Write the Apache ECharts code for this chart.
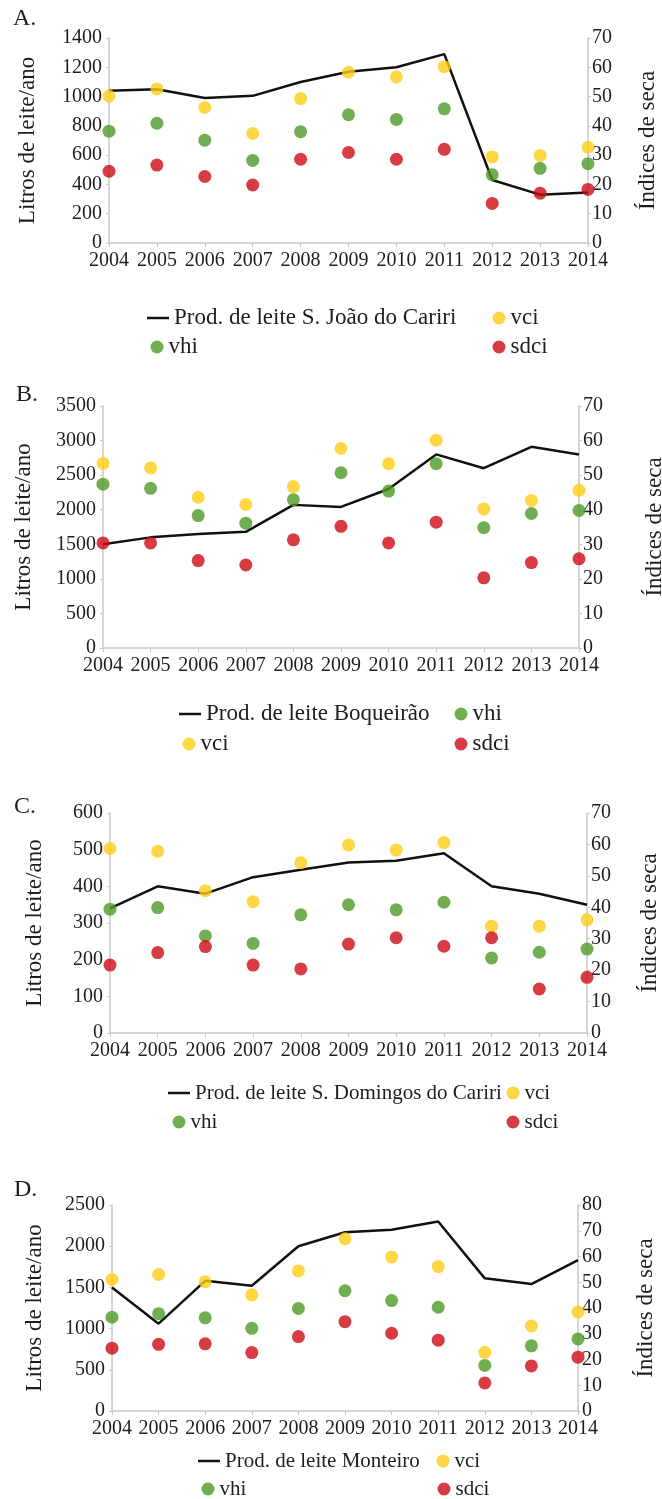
<!DOCTYPE html>
<html>
<head>
<meta charset="utf-8">
<script src="https://cdn.jsdelivr.net/npm/echarts@6/dist/echarts.min.js"></script>
<style>
  html, body { margin: 0; padding: 0; background: #ffffff; }
  #chart { width: 662px; height: 1499px; }
</style>
</head>
<body>
<div id="chart"></div>
<script>
// Years on the shared category axis
const years = ['2004', '2005', '2006', '2007', '2008', '2009', '2010', '2011', '2012', '2013', '2014'];

// A. S. João do Cariri
const prodA = [1040, 1050, 990, 1005, 1100, 1170, 1200, 1290, 430, 330, 345];
const vciA  = [50.2, 52.6, 46.3, 37.4, 49.3, 58.3, 56.7, 60.2, 29.4, 29.9, 32.7];
const vhiA  = [38.2, 40.9, 35.1, 28.2, 38.0, 43.8, 42.2, 45.8, 23.3, 25.5, 27.1];
const sdciA = [24.5, 26.6, 22.7, 19.8, 28.6, 30.9, 28.6, 32.0, 13.5, 17.0, 18.3];

// B. Boqueirão
const prodB = [1500, 1600, 1650, 1680, 2070, 2040, 2300, 2800, 2600, 2910, 2800];
const vciB  = [53.4, 52.1, 43.6, 41.5, 46.7, 57.7, 53.3, 60.1, 40.2, 42.7, 45.6];
const vhiB  = [47.4, 46.2, 38.3, 36.1, 42.9, 50.7, 45.4, 53.3, 34.8, 38.9, 39.8];
const sdciB = [30.4, 30.4, 25.3, 24.0, 31.3, 35.2, 30.4, 36.4, 20.3, 24.7, 25.8];

// C. S. Domingos do Cariri
const prodC = [340, 400, 380, 425, 445, 465, 470, 490, 400, 380, 350];
const vciC  = [58.7, 57.8, 45.3, 41.8, 54.2, 59.8, 58.2, 60.6, 34.0, 34.0, 36.0];
const vhiC  = [39.4, 39.9, 30.9, 28.5, 37.6, 40.8, 39.2, 41.6, 23.9, 25.7, 26.7];
const sdciC = [21.6, 25.6, 27.5, 21.6, 20.4, 28.3, 30.3, 27.6, 30.3, 14.0, 17.7];

// D. Monteiro
const prodD = [1500, 1060, 1580, 1520, 2000, 2170, 2200, 2300, 1610, 1540, 1830];
const vciD  = [51.1, 53.0, 50.2, 45.1, 54.4, 66.9, 59.8, 56.1, 22.8, 33.0, 38.4];
const vhiD  = [36.4, 37.8, 36.2, 32.1, 39.8, 46.7, 42.9, 40.3, 17.7, 25.3, 28.0];
const sdciD = [24.4, 25.9, 26.1, 22.7, 28.9, 34.7, 30.2, 27.5, 10.9, 17.5, 20.9];

// Axis ranges
const leftMax   = [1400, 3500, 600, 2500];
const leftStep  = [200, 500, 100, 500];
const rightMax  = [70, 70, 70, 80];
const rightStep = [10, 10, 10, 10];

const panelLetters = ['A.', 'B.', 'C.', 'D.'];
const lineNames = [
  'Prod. de leite S. João do Cariri',
  'Prod. de leite Boqueirão',
  'Prod. de leite S. Domingos do Cariri',
  'Prod. de leite Monteiro'
];
const prodData = [prodA, prodB, prodC, prodD];
const vciData  = [vciA, vciB, vciC, vciD];
const vhiData  = [vhiA, vhiB, vhiC, vhiD];
const sdciData = [sdciA, sdciB, sdciC, sdciD];

const FONT = '"Liberation Serif", "Times New Roman", serif';
const TEXT = '#1e1e1e';
const AXIS = '#c8c8c8';
const COLORS = { vci: '#FFCC14', vhi: '#4E9A26', sdci: '#CD0A14', line: '#111111' };

// Layout of each panel
const layout = [
  { grid: { left: 109, right: 74, top: 38, height: 205 }, title: [13, 7],
    leftGap: 70, rightGap: 48, legendFont: 23,
    legend: { line: [147, 318], vci: [499, 318], vhi: [157, 347], sdci: [499, 347] } },
  { grid: { left: 103, right: 83, top: 406, height: 242 }, title: [16, 383],
    leftGap: 68, rightGap: 64, legendFont: 23,
    legend: { line: [179, 714], vhi: [461, 714], vci: [189, 744], sdci: [461, 744] } },
  { grid: { left: 110, right: 75, top: 813, height: 220 }, title: [14, 795],
    leftGap: 64, rightGap: 51, legendFont: 21,
    legend: { line: [168, 1093], vci: [513, 1093], vhi: [179, 1122], sdci: [513, 1122] } },
  { grid: { left: 112, right: 84, top: 1205, height: 206 }, title: [14, 1178],
    leftGap: 66, rightGap: 56, legendFont: 21,
    legend: { line: [198, 1461], vci: [443, 1461], vhi: [208, 1489], sdci: [444, 1489] } }
];

const grids = [], xAxes = [], yAxes = [], series = [], legends = [], titles = [];

function axisLabel(margin) {
  return { fontFamily: FONT, fontSize: 20, color: TEXT, margin: margin,
           formatter: v => String(v) };
}

layout.forEach((L, i) => {
  grids.push(Object.assign({ containLabel: false, outerBoundsMode: 'none' }, L.grid));

  titles.push({
    text: panelLetters[i], left: L.title[0], top: L.title[1], padding: 0,
    textStyle: { fontFamily: FONT, fontSize: 24, fontWeight: 'normal', color: TEXT }
  });

  xAxes.push({
    type: 'category', gridIndex: i, data: years, boundaryGap: false,
    axisLine: { show: true, lineStyle: { color: AXIS, width: 1.5 } },
    axisTick: { show: true, length: 4, lineStyle: { color: AXIS } },
    axisLabel: Object.assign(axisLabel(8), { interval: 0 }),
    splitLine: { show: false }
  });

  yAxes.push({
    type: 'value', gridIndex: i, position: 'left', min: 0, max: leftMax[i], interval: leftStep[i],
    axisLine: { show: true, lineStyle: { color: AXIS, width: 1.5 } },
    axisTick: { show: true, length: 3, lineStyle: { color: AXIS } },
    axisLabel: axisLabel(7),
    splitLine: { show: false },
    name: 'Litros de leite/ano', nameLocation: 'middle', nameRotate: 90, nameGap: L.leftGap,
    nameTextStyle: { fontFamily: FONT, fontSize: 23, color: TEXT }
  });
  yAxes.push({
    type: 'value', gridIndex: i, position: 'right', min: 0, max: rightMax[i], interval: rightStep[i],
    axisLine: { show: true, lineStyle: { color: AXIS, width: 1.5 } },
    axisTick: { show: true, length: 3, lineStyle: { color: AXIS } },
    axisLabel: axisLabel(4),
    splitLine: { show: false },
    name: 'Índices de seca', nameLocation: 'middle', nameRotate: 90, nameGap: L.rightGap,
    nameTextStyle: { fontFamily: FONT, fontSize: 23, color: TEXT }
  });

  series.push({
    type: 'line', name: lineNames[i], xAxisIndex: i, yAxisIndex: 2 * i,
    data: prodData[i], symbol: 'none', showSymbol: false, z: 2,
    lineStyle: { color: COLORS.line, width: 2.5 }, itemStyle: { color: COLORS.line }
  });
  [['vci', vciData[i]], ['vhi', vhiData[i]], ['sdci', sdciData[i]]].forEach(([nm, d]) => {
    series.push({
      type: 'scatter', name: nm, xAxisIndex: i, yAxisIndex: 2 * i + 1,
      data: d, symbol: 'circle', symbolSize: 13, z: 3,
      itemStyle: { color: COLORS[nm] }
    });
  });

  // One legend per entry so the two-column arrangement can be placed freely
  const fs = L.legendFont, lh = fs + 2;
  const textStyle = { fontFamily: FONT, fontSize: fs, color: TEXT, lineHeight: lh };
  const lp = L.legend.line;
  legends.push({
    data: [{ name: lineNames[i], icon: 'rect' }], left: lp[0], top: lp[1] - lh / 2,
    itemWidth: 22, itemHeight: 2.5, padding: 0, selectedMode: false, textStyle: textStyle
  });
  ['vci', 'vhi', 'sdci'].forEach(nm => {
    const p = L.legend[nm];
    legends.push({
      data: [{ name: nm, icon: 'circle' }], left: p[0] - 6.5, top: p[1] - lh / 2,
      itemWidth: 13, itemHeight: 13, padding: 0, selectedMode: false, textStyle: textStyle
    });
  });
});

const chart = echarts.init(document.getElementById('chart'), null, { renderer: 'canvas' });
chart.setOption({
  backgroundColor: '#ffffff',
  animation: false,
  title: titles,
  grid: grids,
  xAxis: xAxes,
  yAxis: yAxes,
  legend: legends,
  series: series
});
</script>
</body>
</html>
